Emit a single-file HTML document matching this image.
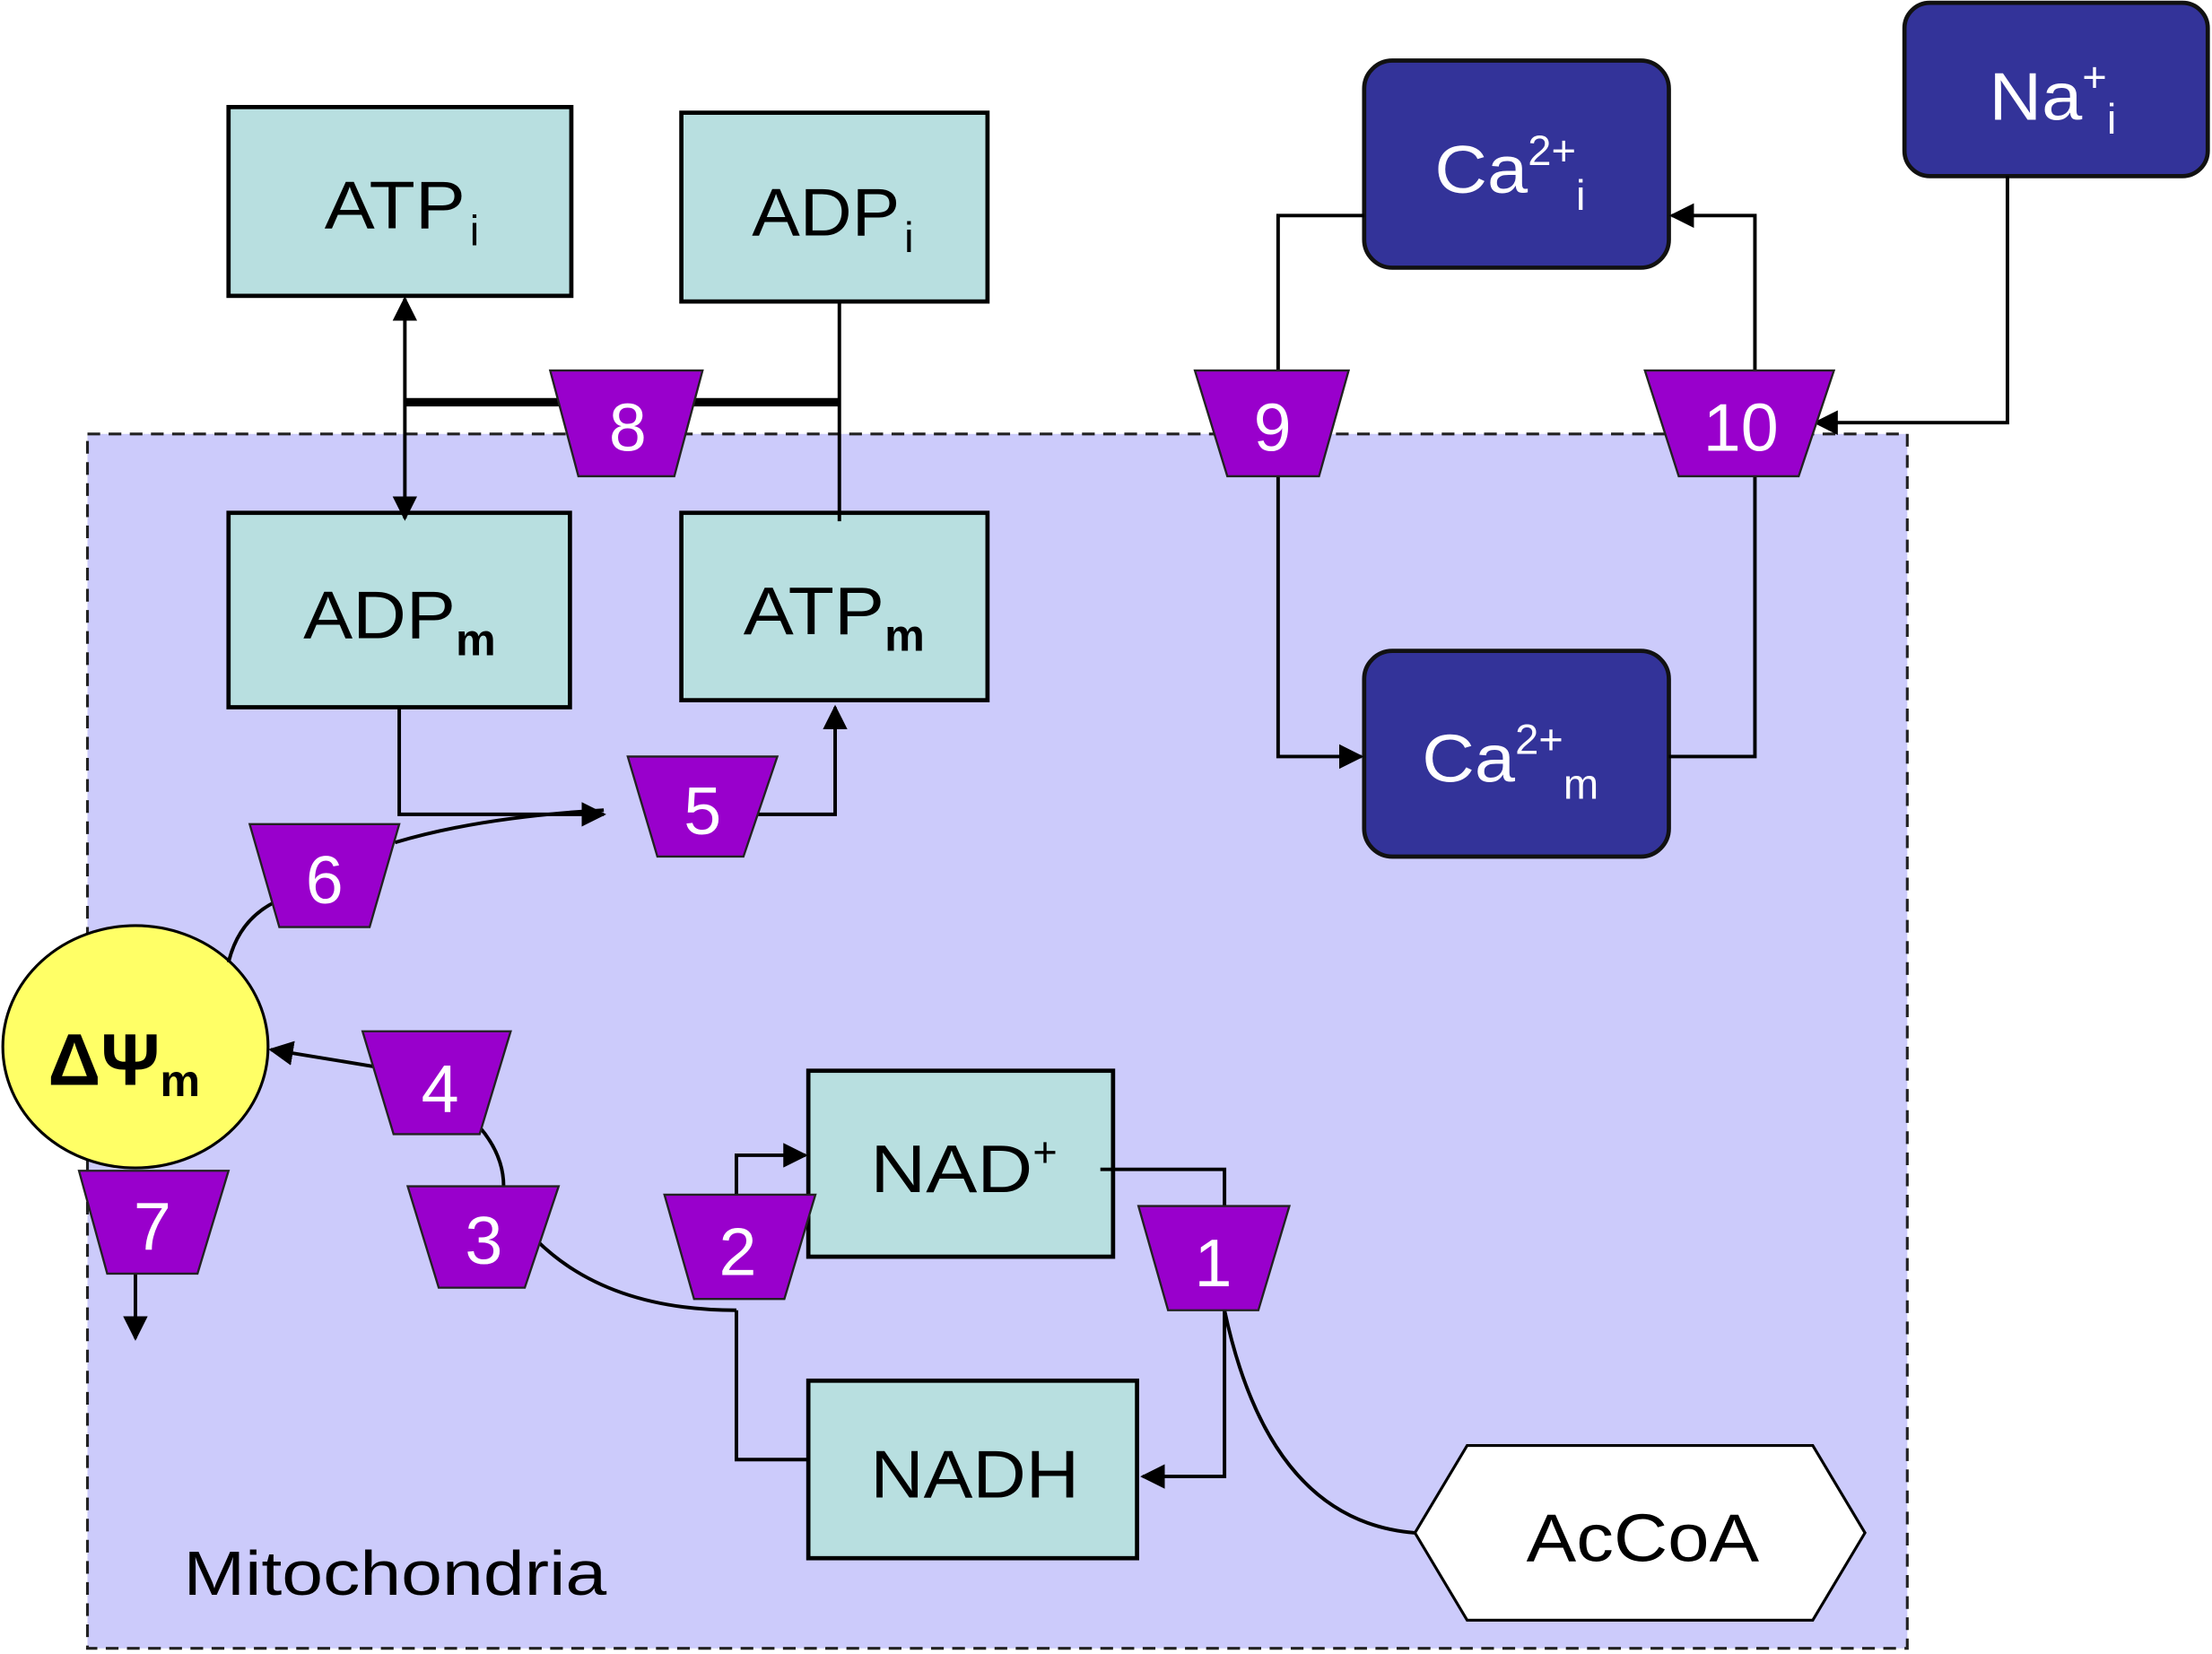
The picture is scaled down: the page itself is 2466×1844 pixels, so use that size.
<!DOCTYPE html>
<html><head><meta charset="utf-8"><style>
html,body{margin:0;padding:0;background:#fff;}
svg{display:block;}
text{font-family:"Liberation Sans",sans-serif;}
</style></head><body>
<svg width="2466" height="1844" viewBox="0 0 1568 1174" preserveAspectRatio="none" xmlns="http://www.w3.org/2000/svg">
<defs>
<marker id="a" viewBox="0 0 10 10" refX="9" refY="5" markerWidth="7" markerHeight="7" orient="auto-start-reverse"><path d="M0,0L10,5L0,10z" fill="#000"/></marker>
</defs>
<rect x="62" y="308" width="1290" height="862" fill="#cccbfb" stroke="#222" stroke-width="2" stroke-dasharray="9,6"/>
<g fill="#b8dfe0" stroke="#000" stroke-width="3">
<rect x="162" y="76" width="243" height="134"/>
<rect x="483" y="80" width="217" height="134"/>
<rect x="162" y="364" width="242" height="138"/>
<rect x="483" y="364" width="217" height="133"/>
<rect x="573" y="760" width="216" height="132"/>
<rect x="573" y="980" width="233" height="126"/>
</g>
<g fill="#333399" stroke="#111" stroke-width="3">
<rect x="967" y="43" width="216" height="147" rx="20"/>
<rect x="1350" y="2" width="215" height="123" rx="18"/>
<rect x="967" y="462" width="216" height="146" rx="20"/>
</g>
<polygon points="1003,1088 1040,1026 1285,1026 1322,1088 1285,1150 1040,1150" fill="#fff" stroke="#000" stroke-width="2"/>
<ellipse cx="96" cy="743" rx="94" ry="86" fill="#ffff66" stroke="#000" stroke-width="2"/>
<g fill="none" stroke="#000" stroke-width="2.5">
<line x1="287" y1="212" x2="287" y2="368" marker-start="url(#a)" marker-end="url(#a)"/>
<line x1="287" y1="285.5" x2="595" y2="285.5" stroke-width="6"/>
<line x1="595" y1="214" x2="595" y2="370"/>
<polyline points="283,502 283,578 428,578" marker-end="url(#a)"/>
<polyline points="527,578 592,578 592,502" marker-end="url(#a)"/>
<path d="M280,598 Q340,580 428,575"/>
<path d="M200,638 Q170,650 162,683"/>
<line x1="265" y1="757" x2="192" y2="745" marker-end="url(#a)"/>
<path d="M340,800 Q357,820 357,842"/>
<path d="M380,880 Q430,930 522,930"/>
<polyline points="522,930 522,1036 573,1036"/>
<polyline points="522,848 522,820 571,820" marker-end="url(#a)"/>
<polyline points="780,830 868,830 868,856"/>
<polyline points="868,930 868,1048 810,1048" marker-end="url(#a)"/>
<path d="M868,930 Q900,1080 1003,1088"/>
<line x1="96" y1="904" x2="96" y2="950" marker-end="url(#a)"/>
<polyline points="906,263 906,153 967,153"/>
<polyline points="906,338 906,537 965,537" marker-end="url(#a)"/>
<polyline points="1183,537 1244,537 1244,338"/>
<polyline points="1244,263 1244,153 1185,153" marker-end="url(#a)"/>
<polyline points="1423,125 1423,300 1287,300" marker-end="url(#a)"/>
</g>
<g fill="#9900cc" stroke="#222" stroke-width="1.5">
<polygon points="390,263 498,263 478,338 410,338"/>
<polygon points="847,263 956,263 935,338 870,338"/>
<polygon points="1166,263 1300,263 1275,338 1190,338"/>
<polygon points="445,537 551,537 527,608 466,608"/>
<polygon points="177,585 283,585 262,658 198,658"/>
<polygon points="257,732 362,732 340,805 279,805"/>
<polygon points="289,842 396,842 372,914 311,914"/>
<polygon points="471,848 578,848 556,922 492,922"/>
<polygon points="807,856 914,856 892,930 828,930"/>
<polygon points="56,831 162,831 140,904 76,904"/>
</g>
<g fill="#fff" font-size="48" text-anchor="middle">
<text x="445" y="320">8</text><text x="902" y="320">9</text><text x="1234" y="320">10</text>
<text x="498" y="592">5</text><text x="230" y="641">6</text><text x="312" y="789">4</text>
<text x="343" y="897">3</text><text x="523" y="905">2</text><text x="860" y="913">1</text>
<text x="108" y="887">7</text>
</g>
<g font-size="48" fill="#000">
<text x="230" y="162"><tspan textLength="100" lengthAdjust="spacingAndGlyphs">ATP</tspan><tspan font-size="30" dx="3" dy="12">i</tspan></text>
<text x="533" y="167"><tspan textLength="105" lengthAdjust="spacingAndGlyphs">ADP</tspan><tspan font-size="30" dx="3" dy="12">i</tspan></text>
<text x="215" y="453"><tspan textLength="108" lengthAdjust="spacingAndGlyphs">ADP</tspan><tspan font-size="32" font-weight="bold" dy="12">m</tspan></text>
<text x="527" y="450"><tspan textLength="100" lengthAdjust="spacingAndGlyphs">ATP</tspan><tspan font-size="32" font-weight="bold" dy="12">m</tspan></text>
<text x="617" y="846"><tspan textLength="115" lengthAdjust="spacingAndGlyphs">NAD</tspan><tspan font-size="30" dy="-18">+</tspan></text>
<text x="617" y="1063" textLength="148" lengthAdjust="spacingAndGlyphs">NADH</text>
<text x="1082" y="1108" textLength="165" lengthAdjust="spacingAndGlyphs">AcCoA</text>
<text x="130" y="1132" font-size="44" textLength="300" lengthAdjust="spacingAndGlyphs">Mitochondria</text>
<text x="34" y="770" font-family="Liberation Serif,serif" font-weight="bold" font-size="52">ΔΨ<tspan font-size="32" dy="8">m</tspan></text>
</g>
<g font-size="48" fill="#fff">
<text x="1017" y="137"><tspan textLength="66" lengthAdjust="spacingAndGlyphs">Ca</tspan><tspan font-size="30" dy="-20">2+</tspan><tspan font-size="30" dy="32">i</tspan></text>
<text x="1410" y="85"><tspan textLength="66" lengthAdjust="spacingAndGlyphs">Na</tspan><tspan font-size="30" dy="-20">+</tspan><tspan font-size="30" dy="30">i</tspan></text>
<text x="1008" y="555"><tspan textLength="66" lengthAdjust="spacingAndGlyphs">Ca</tspan><tspan font-size="30" dy="-20">2+</tspan><tspan font-size="30" dy="32">m</tspan></text>
</g>
</svg>
</body></html>
